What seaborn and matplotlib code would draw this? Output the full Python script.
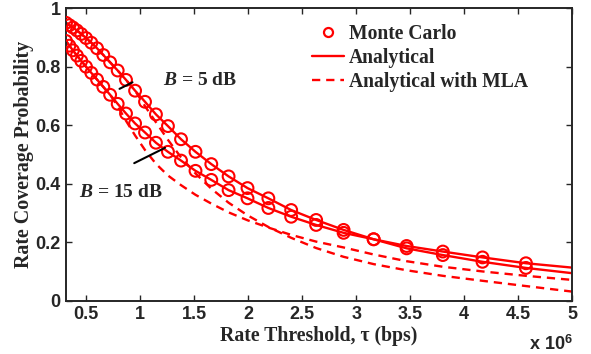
import matplotlib
matplotlib.use('Agg')
import matplotlib.pyplot as plt
import seaborn as sns
import pandas as pd
from matplotlib.lines import Line2D

# Rate threshold grid (x 10^6 bps)
rate = [0.316, 0.347, 0.380, 0.417, 0.457, 0.501, 0.550, 0.603, 0.661, 0.724,
        0.794, 0.871, 0.955, 1.047, 1.148, 1.259, 1.380, 1.514, 1.660, 1.820,
        1.995, 2.188, 2.399, 2.630, 2.884, 3.162, 3.467, 3.802, 4.169, 4.571,
        5.0]

# Analytical, B = 5 dB
ana_5db = [0.950, 0.942, 0.934, 0.924, 0.912, 0.898, 0.882, 0.863, 0.840, 0.815,
           0.787, 0.755, 0.718, 0.680, 0.637, 0.597, 0.552, 0.509, 0.467, 0.425,
           0.385, 0.350, 0.310, 0.276, 0.242, 0.210, 0.179, 0.156, 0.133, 0.112,
           0.094]
# Analytical, B = 15 dB
ana_15db = [0.888, 0.872, 0.856, 0.838, 0.820, 0.800, 0.779, 0.756, 0.731, 0.704,
            0.673, 0.640, 0.606, 0.575, 0.540, 0.509, 0.479, 0.444, 0.413, 0.378,
            0.350, 0.317, 0.287, 0.259, 0.232, 0.210, 0.187, 0.168, 0.148, 0.128,
            0.113]
# Analytical with MLA
mla_5db = [0.950, 0.942, 0.934, 0.924, 0.912, 0.898, 0.882, 0.863, 0.840, 0.815,
           0.787, 0.755, 0.718, 0.665, 0.610, 0.550, 0.490, 0.435, 0.383, 0.335,
           0.292, 0.252, 0.215, 0.180, 0.150, 0.125, 0.104, 0.085, 0.068, 0.050,
           0.031]
mla_15db = [0.888, 0.872, 0.856, 0.838, 0.820, 0.800, 0.779, 0.756, 0.731, 0.704,
            0.665, 0.615, 0.565, 0.515, 0.468, 0.428, 0.395, 0.362, 0.332, 0.302,
            0.275, 0.250, 0.225, 0.202, 0.182, 0.158, 0.135, 0.116, 0.100, 0.085,
            0.071]

# Monte Carlo points (same grid, last grid point excluded)
mc_rate = rate[:-1]
mc_5db = ana_5db[:-1]
mc_15db = ana_15db[:-1]

x_ticks = [0.5, 1, 1.5, 2, 2.5, 3, 3.5, 4, 4.5, 5]
y_ticks = [0, 0.2, 0.4, 0.6, 0.8, 1]

################### Style #####################################################
sns.set_style("ticks")
plt.rcParams['font.family'] = ['Liberation Sans', 'DejaVu Sans']
plt.rcParams['mathtext.fontset'] = 'custom'
plt.rcParams['mathtext.it'] = 'Liberation Serif:italic:bold'
plt.rcParams['mathtext.rm'] = 'Liberation Sans:bold'
plt.rcParams['xtick.direction'] = 'in'
plt.rcParams['ytick.direction'] = 'in'

RED = '#ff0000'
SERIF = 'Liberation Serif'

fig = plt.figure(figsize=(5.91, 3.54), dpi=100)
ax = fig.add_axes([0.1117, 0.1506, 0.8567, 0.8262])

lines = pd.DataFrame({'rate': rate, 'a5': ana_5db, 'a15': ana_15db,
                      'm5': mla_5db, 'm15': mla_15db})
mc = pd.DataFrame({'rate': mc_rate, 'a5': mc_5db, 'a15': mc_15db})

for col in ['a5', 'a15']:
    sns.lineplot(data=lines, x='rate', y=col, ax=ax, color=RED, lw=1.7)
for col in ['m5', 'm15']:
    sns.lineplot(data=lines, x='rate', y=col, ax=ax, color=RED, lw=1.7)
for col in ['a5', 'a15']:
    sns.scatterplot(data=mc, x='rate', y=col, ax=ax, marker='o', s=72,
                    facecolor='none', edgecolor=RED, linewidth=1.5, zorder=3)

# MLA curves are dashed
for ln in ax.lines[2:4]:
    ln.set_dashes((3.5, 2.5))

ax.set_xlim(0.316, 5.0)
ax.set_ylim(0, 1)
ax.set_xticks(x_ticks)
ax.set_xticklabels(['0.5', '1', '1.5', '2', '2.5', '3', '3.5', '4', '4.5', '5'])
ax.set_yticks(y_ticks)
ax.set_yticklabels(['0', '0.2', '0.4', '0.6', '0.8', '1'])
ax.tick_params(labelsize=13, length=4, width=1, top=True, right=True, pad=4)
for lab in ax.get_xticklabels() + ax.get_yticklabels():
    lab.set_fontweight('bold')
for sp in ax.spines.values():
    sp.set_linewidth(1.4)
    sp.set_visible(True)

ax.set_xlabel('Rate Threshold, τ (bps)', family=SERIF,
              fontweight='bold', fontsize=14.2, labelpad=2)
ax.set_ylabel('Rate Coverage Probability', family=SERIF,
              fontweight='bold', fontsize=14.4, labelpad=1)
ax.text(1.0, -0.115, r'x 10$^6$', transform=ax.transAxes, ha='right', va='top',
        fontsize=13, fontweight='bold')

# annotations
ax.annotate('', xy=(0.788, 0.720), xytext=(0.954, 0.751),
            arrowprops=dict(arrowstyle='-', color='black', lw=1.5))
ax.annotate('', xy=(0.924, 0.466), xytext=(1.255, 0.527),
            arrowprops=dict(arrowstyle='-', color='black', lw=1.5))
ax.text(1.21, 0.753, r'$B$ = 5 dB', family=SERIF,
        fontweight='bold', fontsize=14, va='center')
ax.text(0.438, 0.370, r'$B$ = 15 dB', family=SERIF,
        fontweight='bold', fontsize=14, va='center')

handles = [Line2D([], [], ls='none', marker='o', mfc='none', mec=RED, mew=1.6, ms=6.5),
           Line2D([], [], color=RED, lw=1.7),
           Line2D([], [], color=RED, lw=1.7, dashes=(3.5, 2.5))]
ax.legend(handles, ['Monte Carlo', 'Analytical', 'Analytical with MLA'],
          loc='upper left', bbox_to_anchor=(0.47, 0.972), frameon=False,
          prop={'family': SERIF, 'weight': 'bold', 'size': 14.1},
          handlelength=1.65, handletextpad=0.26, labelspacing=0.2,
          borderaxespad=0)

fig.savefig('out.png', dpi=100)
